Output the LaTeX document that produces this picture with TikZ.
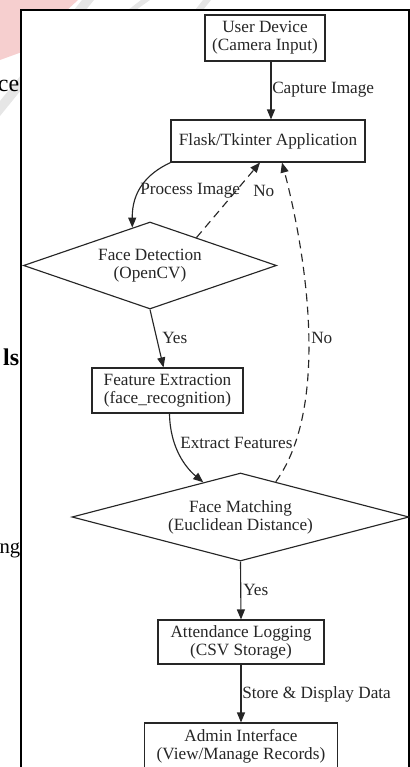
\documentclass[tikz,border=0pt]{standalone}
\usepackage{fontspec}
\setmainfont{Liberation Serif}
\usetikzlibrary{shapes.geometric,arrows.meta}
\definecolor{ink}{HTML}{262626}
\definecolor{wmpink}{HTML}{F6CFCF}
\definecolor{wmgray}{HTML}{E6E6E6}
\begin{document}
\begin{tikzpicture}[x=0.75pt,y=-0.75pt,
  every node/.style={font=\fontsize{12.9pt}{13.5pt}\selectfont, text=ink},
  boxnode/.style={draw=ink, line width=0.85pt, rectangle, align=center, inner sep=0pt},
  decnode/.style={draw=ink, line width=0.85pt, diamond, align=center, inner sep=0pt},
  arr/.style={draw=ink, line width=0.85pt, -{Triangle[length=7.5pt,width=6pt]}},
  lbl/.style={anchor=west, inner sep=0pt},
  bgtext/.style={font=\fontsize{18pt}{20pt}\selectfont, text=black, inner sep=0pt, anchor=base east}]
\useasboundingbox (0,0) rectangle (410,767);
% watermark fragments
\fill[wmpink] (0,0) -- (78,0) -- (22,52) -- (0,60) -- cycle;
\fill[wmgray] (82,0) -- (94,0) -- (0,116) -- (0,101) -- cycle;
\fill[wmgray] (141,0) -- (150,0) -- (136,10) -- (128,10) -- cycle;
\fill[wmgray] (203,0) -- (211,0) -- (203,10) -- (195,10) -- cycle;
% background text fragments
\node[bgtext] (bgce) at (19.5,91) {ce};
\node[bgtext, font=\fontsize{18pt}{20pt}\selectfont\bfseries] (bgls) at (19.5,365) {ls};
\node[bgtext, font=\fontsize{15.5pt}{18pt}\selectfont] (bgng) at (20.5,553) {ng};
% frame
\fill[white] (21,10) rectangle (409,790);
\draw[black, line width=2.2pt] (21,10) rectangle (409,790);
% nodes
\node[boxnode, minimum width=90pt, minimum height=34.5pt] (dev) at (265,38) {User Device\\(Camera Input)};
\node[boxnode, minimum width=145.5pt, minimum height=31.5pt] (flask) at (268,141) {Flask/Tkinter Application};
\node[decnode, shape aspect=2.9, minimum width=189.75pt, minimum height=65.25pt] (det) at (150,265.5) {Face Detection\\(OpenCV)};
\node[boxnode, minimum width=113.25pt, minimum height=33.75pt] (feat) at (167.5,390.5) {Feature Extraction\\(face\_recognition)};
\node[decnode, shape aspect=3.83, minimum width=252.75pt, minimum height=66pt] (match) at (240.5,517) {Face Matching\\(Euclidean Distance)};
\node[boxnode, minimum width=124.5pt, minimum height=33pt] (att) at (241,642) {Attendance Logging\\(CSV Storage)};
\node[boxnode, minimum width=144.75pt, minimum height=34.5pt] (admin) at (241,746) {Admin Interface\\(View/Manage Records)};
% edges
\draw[arr] ([xshift=4.5pt]dev.south) -- ([xshift=2.25pt]flask.north);
\node[lbl] (l1) at (272,90) {Capture Image};
\draw[arr] (flask.south west) .. controls (146,174) and (132,192) .. (det.115);
\node[lbl] (l2) at (140,191) {Process Image};
\draw[arr, dashed, dash pattern=on 6pt off 4pt] (det.31) -- ([xshift=-6pt]flask.south);
\node[lbl] (l3) at (253,191) {No};
\draw[arr, dashed, dash pattern=on 6pt off 4pt] (match.45) .. controls (335,400) and (300,230) .. ([xshift=10.5pt]flask.south);
\node[lbl] (l4) at (311,338) {No};
\draw[arr] (det.south) -- ([xshift=-3pt]feat.north);
\node[lbl] (l5) at (162,338) {Yes};
\draw[arr] ([xshift=1.5pt]feat.south) .. controls (170,448) and (186,468) .. (match.137);
\node[lbl] (l6) at (180,443) {Extract Features};
\draw[arr] (match.south) -- (att.north);
\node[lbl] (l7) at (243,590) {Yes};
\draw[arr] (att.south) -- (admin.north);
\node[lbl] (l8) at (242,694) {Store \& Display Data};
\end{tikzpicture}
\end{document}
